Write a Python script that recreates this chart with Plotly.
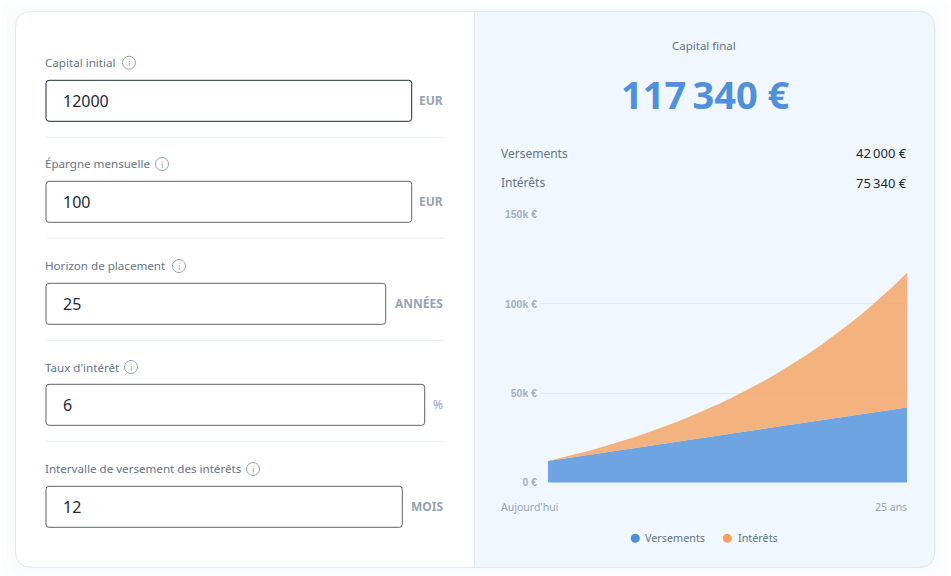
import plotly.graph_objects as go

W, H = 951, 576

# chart data
annees = list(range(26))
versements = [12000, 13200, 14400, 15600, 16800, 18000, 19200, 20400, 21600, 22800, 24000, 25200, 26400,
              27600, 28800, 30000, 31200, 32400, 33600, 34800, 36000, 37200, 38400, 39600, 40800, 42000]
interets = [0, 720, 1555, 2513, 3599, 4823, 6193, 7716, 9403, 11263, 13307, 15546, 17990,
            20654, 23549, 26690, 30091, 33769, 37739, 42019, 46628, 51586, 56913, 62632, 68766, 75340]
y_ticks = [0, 50000, 100000, 150000]
y_labels = ["0 €", "50k €", "100k €", "150k €"]

# form fields
champs = ["Capital initial", "Épargne mensuelle", "Horizon de placement", "Taux d'intérêt",
          "Intervalle de versement des intérêts"]
valeurs = ["12000", "100", "25", "6", "12"]
unites = ["EUR", "EUR", "ANNÉES", "%", "MOIS"]

# pixel layout of the form
label_y = [62.3, 163.8, 265.3, 367.3, 468.5]
box_top = [80.3, 181.3, 283.3, 384.3, 486.3]
box_right = [411.7, 411.7, 385.7, 424.7, 402.3]
icon_x = [129, 162, 179, 131, 253]
icon_y = [62.7, 164, 266, 367, 469]
sep_y = [137.3, 238.3, 340.3, 441.3]

BLUE = "#4f8fdc"
ORANGE = "#f5a05f"
MUTED = "#64748b"
LIGHT = "#94a3b8"
UI_FONT = "Noto Sans"


def px(x):
    return x / W


def py(y):
    return 1 - y / H


def round_path(x0, y0, x1, y1, r=(3, 3, 3, 3)):
    # r: top left, top right, bottom right, bottom left
    tl, tr, br, bl = r
    pts = [f"M {px(x0 + tl)} {py(y0)}", f"L {px(x1 - tr)} {py(y0)}"]
    if tr:
        pts.append(f"Q {px(x1)} {py(y0)} {px(x1)} {py(y0 + tr)}")
    pts.append(f"L {px(x1)} {py(y1 - br)}")
    if br:
        pts.append(f"Q {px(x1)} {py(y1)} {px(x1 - br)} {py(y1)}")
    pts.append(f"L {px(x0 + bl)} {py(y1)}")
    if bl:
        pts.append(f"Q {px(x0)} {py(y1)} {px(x0)} {py(y1 - bl)}")
    pts.append(f"L {px(x0)} {py(y0 + tl)}")
    if tl:
        pts.append(f"Q {px(x0)} {py(y0)} {px(x0 + tl)} {py(y0)}")
    return " ".join(pts) + " Z"


shapes = []
annots = []


def rect(x0, y0, x1, y1, r, fill, line=None, width=1):
    shapes.append(dict(type="path", xref="paper", yref="paper", layer="below", path=round_path(x0, y0, x1, y1, r),
                       fillcolor=fill, line=dict(color=line or fill, width=width if line else 0)))


def text(x, y, s, size=12, color=MUTED, anchor="left", family=UI_FONT, weight="normal"):
    annots.append(dict(xref="paper", yref="paper", x=px(x), y=py(y), text=s, showarrow=False, xanchor=anchor,
                       yanchor="middle", borderpad=0, borderwidth=0,
                       font=dict(size=size, color=color, family=family, weight=weight)))


def circle(cx, cy, r, fill, line=None):
    shapes.append(dict(type="circle", xref="paper", yref="paper", layer="below",
                       x0=px(cx - r), x1=px(cx + r), y0=py(cy + r), y1=py(cy - r),
                       fillcolor=fill, line=dict(color=line or fill, width=1 if line else 0)))


# faint shadow round the card
for grow, col in [(14, "#fdfdff"), (9, "#fbfcfe"), (4, "#f9fbfd")]:
    rect(15.5 - grow, 11.5 - grow, 934.7 + grow, 567.3 + grow, (18, 18, 18, 18), col)

# card and right panel
rect(15.5, 11.5, 934.7, 567.3, (16, 16, 16, 16), "#ffffff", "#e2e8f0")
rect(474.5, 11.5, 934.7, 567.3, (0, 16, 16, 0), "#f0f7ff", "#e2e8f0")

# form
for i in range(5):
    text(45, label_y[i], champs[i], 11.6, MUTED)
    circle(icon_x[i], icon_y[i], 6.5, "rgba(0,0,0,0)", "#94a3b8")
    text(icon_x[i], icon_y[i], "i", 9, "#94a3b8", "center")
    rect(46, box_top[i], box_right[i], box_top[i] + 41, (3, 3, 3, 3), "#ffffff",
         "#1f2937" if i == 0 else "#5f6368", 1)
    text(62.5, box_top[i] + 21, valeurs[i], 16, "#1f2937")
    text(443, box_top[i] + 20.3, unites[i], 12, LIGHT, "right", weight="bold" if unites[i] != "%" else "normal")
for y in sep_y:
    shapes.append(dict(type="line", xref="paper", yref="paper", layer="below", x0=px(46), x1=px(444),
                       y0=py(y), y1=py(y), line=dict(color="#e5ebf2", width=1)))

# summary
text(703.7, 45.3, "Capital final", 11.5, MUTED, "center")
text(705, 94.2, "117\u2009340 €", 38, BLUE, "center", weight="bold")
text(500.7, 153, "Versements", 12, MUTED)
text(500.7, 182.5, "Intérêts", 12, MUTED)
text(907, 153, "42\u2009000 €", 13, "#1f2937", "right")
text(907, 182.5, "75\u2009340 €", 13, "#1f2937", "right")

# chart footer and legend
text(500.7, 507, "Aujourd'hui", 10.5, LIGHT)
text(907, 507, "25 ans", 10.5, LIGHT, "right")
circle(635.3, 538.3, 4.5, BLUE)
text(645, 537.5, "Versements", 10.8, MUTED)
circle(727.3, 538.3, 4.5, ORANGE)
text(737.5, 537.5, "Intérêts", 10.8, MUTED)

fig = go.Figure()
fig.add_trace(go.Scatter(x=annees, y=versements, stackgroup="a", mode="lines", line=dict(width=0, color=BLUE),
                         fillcolor="rgba(79,143,220,0.8)", name="Versements"))
fig.add_trace(go.Scatter(x=annees, y=interets, stackgroup="a", mode="lines", line=dict(width=0, color=ORANGE),
                         fillcolor="rgba(245,160,95,0.8)", name="Intérêts"))

fig.update_layout(
    width=W, height=H, margin=dict(l=0, r=0, t=0, b=0, autoexpand=False), showlegend=False,
    paper_bgcolor="#ffffff", plot_bgcolor="rgba(0,0,0,0)",
    shapes=shapes, annotations=annots,
    xaxis=dict(domain=[px(540), px(907)], range=[-0.56, 25], visible=False),
    yaxis=dict(domain=[py(483.4), py(213.6)], range=[-500, 150500], tickvals=y_ticks, ticktext=y_labels,
               showgrid=True, gridcolor="#e2e8f0", gridwidth=1, zeroline=False,
               showline=False, ticks="", ticklabelstandoff=2,
               tickfont=dict(family="Liberation Sans", size=10.5, color="#a3afc2", weight="bold")),
)

fig.write_html("out.html", config=dict(displayModeBar=False), post_script="document.body.style.margin='0';")
